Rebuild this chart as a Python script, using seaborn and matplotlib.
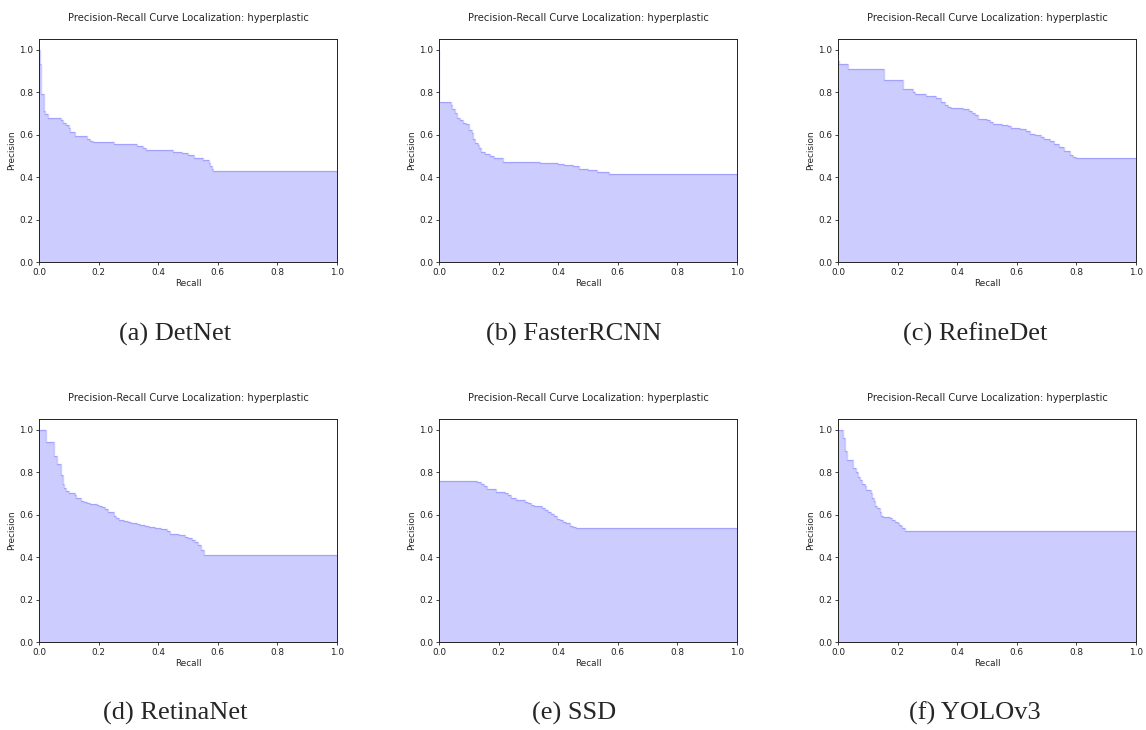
import matplotlib
matplotlib.use("Agg")
import matplotlib.pyplot as plt
import seaborn as sns

# step-post PR curves: recall breakpoints, precision from that point on
detnet_recall = [0.0, 0.0, 0.0045, 0.008, 0.017, 0.02, 0.03, 0.075, 0.08, 0.09, 0.1, 0.105, 0.12,
                 0.16, 0.17, 0.18, 0.25, 0.26, 0.33, 0.35, 0.36, 0.45, 0.48, 0.5, 0.52, 0.55, 0.57,
                 0.575, 0.58, 0.585, 1.0]
detnet_prec = [1.0, 1.0, 0.93, 0.79, 0.71, 0.695, 0.678, 0.67, 0.655, 0.643, 0.63, 0.613, 0.592,
               0.578, 0.57, 0.564, 0.556, 0.555, 0.545, 0.537, 0.529, 0.52, 0.512, 0.503, 0.49,
               0.478, 0.465, 0.452, 0.44, 0.43, 0.43]

faster_recall = [0.0, 0.0, 0.039, 0.045, 0.055, 0.06, 0.07, 0.08, 0.09, 0.1, 0.11, 0.115, 0.12,
                 0.13, 0.135, 0.14, 0.155, 0.17, 0.185, 0.215, 0.34, 0.4, 0.42, 0.45, 0.47, 0.5,
                 0.53, 0.571, 1.0]
faster_prec = [1.0, 0.755, 0.74, 0.722, 0.70, 0.679, 0.67, 0.655, 0.648, 0.62, 0.608, 0.58, 0.56,
               0.55, 0.535, 0.518, 0.509, 0.50, 0.49, 0.471, 0.468, 0.462, 0.457, 0.45, 0.44,
               0.432, 0.424, 0.414, 0.414]

refine_recall = [0.0, 0.005, 0.034, 0.155, 0.218, 0.25, 0.26, 0.295, 0.33, 0.345, 0.36, 0.37,
                 0.38, 0.42, 0.44, 0.45, 0.46, 0.47, 0.5, 0.51, 0.52, 0.55, 0.57, 0.58, 0.61,
                 0.63, 0.645, 0.66, 0.68, 0.69, 0.71, 0.725, 0.74, 0.76, 0.78, 0.79, 0.80, 1.0]
refine_prec = [0.945, 0.93, 0.907, 0.856, 0.814, 0.80, 0.791, 0.78, 0.77, 0.755, 0.74, 0.73,
               0.727, 0.72, 0.71, 0.70, 0.69, 0.675, 0.668, 0.66, 0.652, 0.647, 0.64, 0.632,
               0.625, 0.615, 0.605, 0.597, 0.59, 0.58, 0.57, 0.557, 0.542, 0.522, 0.506, 0.496,
               0.488, 0.488]

retina_recall = [0.0, 0.025, 0.05, 0.06, 0.073, 0.075, 0.08, 0.085, 0.09, 0.1, 0.12, 0.125,
                 0.14, 0.15, 0.16, 0.17, 0.195, 0.2, 0.21, 0.22, 0.23, 0.25, 0.26, 0.27, 0.285,
                 0.3, 0.31, 0.33, 0.34, 0.355, 0.37, 0.39, 0.41, 0.43, 0.44, 0.47, 0.49, 0.5,
                 0.515, 0.525, 0.535, 0.545, 0.555, 1.0]
retina_prec = [1.0, 0.94, 0.874, 0.838, 0.815, 0.785, 0.743, 0.725, 0.712, 0.70, 0.691, 0.68,
               0.665, 0.66, 0.654, 0.65, 0.645, 0.64, 0.635, 0.625, 0.61, 0.595, 0.585, 0.575,
               0.57, 0.565, 0.56, 0.555, 0.55, 0.545, 0.54, 0.535, 0.53, 0.525, 0.51, 0.505,
               0.495, 0.49, 0.48, 0.47, 0.455, 0.435, 0.411, 0.411]

ssd_recall = [0.0, 0.129, 0.14, 0.15, 0.16, 0.19, 0.22, 0.23, 0.24, 0.26, 0.29, 0.3, 0.31, 0.32,
              0.345, 0.355, 0.365, 0.375, 0.385, 0.395, 0.405, 0.415, 0.425, 0.44, 0.45, 0.459,
              1.0]
ssd_prec = [0.758, 0.755, 0.745, 0.733, 0.722, 0.705, 0.70, 0.693, 0.676, 0.67, 0.66, 0.655,
            0.646, 0.64, 0.63, 0.62, 0.61, 0.605, 0.595, 0.58, 0.575, 0.565, 0.56, 0.545, 0.54,
            0.535, 0.535]

yolo_recall = [0.0, 0.017, 0.025, 0.03, 0.05, 0.062, 0.068, 0.075, 0.08, 0.09, 0.095, 0.11,
               0.115, 0.12, 0.125, 0.13, 0.14, 0.145, 0.15, 0.175, 0.18, 0.19, 0.2, 0.205,
               0.21, 0.215, 0.226, 1.0]
yolo_prec = [1.0, 0.959, 0.90, 0.857, 0.819, 0.80, 0.775, 0.765, 0.745, 0.735, 0.714, 0.70,
             0.68, 0.665, 0.64, 0.63, 0.61, 0.595, 0.59, 0.585, 0.575, 0.565, 0.56, 0.55, 0.545,
             0.535, 0.525, 0.525]

models = ["(a) DetNet", "(b) FasterRCNN", "(c) RefineDet",
          "(d) RetinaNet", "(e) SSD", "(f) YOLOv3"]
curves = [(detnet_recall, detnet_prec), (faster_recall, faster_prec), (refine_recall, refine_prec),
          (retina_recall, retina_prec), (ssd_recall, ssd_prec), (yolo_recall, yolo_prec)]

sns.set_style("ticks", {"axes.edgecolor": "#222222", "xtick.color": "#222222",
                        "ytick.color": "#222222"})
plt.rcParams["font.family"] = ["DejaVu Sans"]

W, H = 1146, 730
fig = plt.figure(figsize=(W / 100, H / 100), dpi=100)

lefts = [39, 439, 838]
tops = [39, 419]
aw, ah = 298, 223
cap_x = [175, 574, 975]
cap_y = [334, 713]

for i, (name, (rec, prec)) in enumerate(zip(models, curves)):
    r, c = divmod(i, 3)
    ax = fig.add_axes([lefts[c] / W, 1 - (tops[r] + ah) / H, aw / W, ah / H])
    sns.lineplot(x=rec, y=prec, ax=ax, color="b", alpha=0.2, drawstyle="steps-post",
                 estimator=None, sort=False, lw=1)
    ax.fill_between(rec, prec, step="post", alpha=0.2, color="b", lw=0)
    ax.set_xlim(0.0, 1.0)
    ax.set_ylim(0.0, 1.05)
    ax.set_xticks([0.0, 0.2, 0.4, 0.6, 0.8, 1.0])
    ax.set_yticks([0.0, 0.2, 0.4, 0.6, 0.8, 1.0])
    ax.tick_params(labelsize=6.4, length=2.5, width=0.6, pad=1.5)
    for sp in ax.spines.values():
        sp.set_visible(True)
        sp.set_linewidth(0.7)
    ax.set_xlabel("Recall", fontsize=6.4, labelpad=1.5)
    ax.set_ylabel("Precision", fontsize=6.4, labelpad=2)
    ax.set_title("Precision-Recall Curve Localization: hyperplastic", fontsize=7.2, pad=13)
    fig.text(cap_x[c] / W, 1 - cap_y[r] / H, name, ha="center", va="center",
             fontsize=19, family=["Liberation Serif", "DejaVu Serif"])

fig.savefig("out.png", dpi=100)
